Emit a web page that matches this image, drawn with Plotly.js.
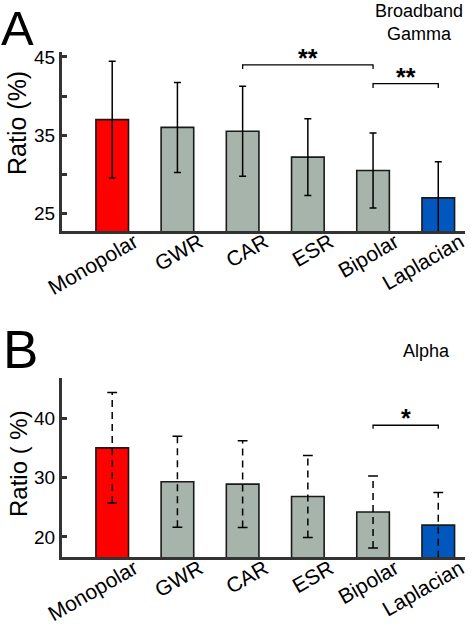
<!DOCTYPE html>
<html>
<head>
<meta charset="utf-8">
<script src="https://cdn.plot.ly/plotly-3.0.1.min.js"></script>
<style>
  html, body { margin: 0; padding: 0; background: #fff; }
  #chart { width: 472px; height: 631px; }
</style>
</head>
<body>
<div id="chart"></div>
<script>
// ---------- data ----------
const categories = ['Monopolar', 'GWR', 'CAR', 'ESR', 'Bipolar', 'Laplacian'];

const gammaMean = [37.0, 36.0, 35.5, 32.2, 30.5, 27.0];
const gammaErr  = [7.45, 5.75, 5.75, 4.9, 4.8, 4.6];

const alphaMean = [35.0, 29.3, 28.9, 26.8, 24.2, 22.0];
const alphaErr  = [9.3, 7.65, 7.3, 6.9, 6.05, 5.5];

const barColors = ['#FF0000', '#A6B4AB', '#A6B4AB', '#A6B4AB', '#A6B4AB', '#0058BE'];

const gammaTickVals = [25, 30, 35, 40, 45];
const gammaTickText = ['25', '', '35', '', '45'];
const alphaTickVals = [20, 30, 40];
const alphaTickText = ['20', '30', '40'];

const gammaSig = [
  { from: 'CAR', to: 'Bipolar', level: 44.0, label: '**' },
  { from: 'Bipolar', to: 'Laplacian', level: 41.6, label: '**' }
];
const alphaSig = [
  { from: 'Bipolar', to: 'Laplacian', level: 38.8, label: '*' }
];

const panelLetters = ['A', 'B'];
const panelBands = ['Broadband<br>Gamma', 'Alpha'];
const yTitles = ['Ratio (%)', 'Ratio ( %)'];

// ---------- layout helpers ----------
const W = 472, H = 631;
const px = x => x / W;
const py = y => 1 - y / H;
const FONT = 'Liberation Sans, Arial, Helvetica, sans-serif';
const AXC = '#333333';

const traces = [];
// Panel A bars with solid error bars
traces.push({
  type: 'bar', x: categories, y: gammaMean, xaxis: 'x', yaxis: 'y',
  width: 0.5,
  marker: { color: barColors, line: { color: '#1a1a1a', width: 1.6 } },
  error_y: { type: 'data', array: gammaErr, visible: true, color: '#000', thickness: 1.5, width: 3.5 },
  hoverinfo: 'skip', showlegend: false
});
// Panel B bars
traces.push({
  type: 'bar', x: categories, y: alphaMean, xaxis: 'x2', yaxis: 'y2',
  width: 0.5,
  marker: { color: barColors, line: { color: '#1a1a1a', width: 1.6 } },
  hoverinfo: 'skip', showlegend: false
});
// Panel B dashed error bars
const ebX = [], ebY = [], capX = [], capY = [];
categories.forEach((c, i) => {
  ebX.push(c, c, null);
  ebY.push(alphaMean[i] - alphaErr[i], alphaMean[i] + alphaErr[i], null);
  capX.push(c, c);
  capY.push(alphaMean[i] - alphaErr[i], alphaMean[i] + alphaErr[i]);
});
traces.push({
  type: 'scatter', mode: 'lines', x: ebX, y: ebY, xaxis: 'x2', yaxis: 'y2',
  line: { color: '#000', width: 1.5, dash: '7px,5px' },
  connectgaps: false, hoverinfo: 'skip', showlegend: false
});
traces.push({
  type: 'scatter', mode: 'markers', x: capX, y: capY, xaxis: 'x2', yaxis: 'y2',
  marker: { symbol: 'line-ew', size: 7, line: { color: '#000', width: 1.5 } },
  hoverinfo: 'skip', showlegend: false
});

// significance brackets
const shapes = [];
const annotations = [];
function addSig(list, xref, yref, drop, starShift) {
  list.forEach(s => {
    const a = categories.indexOf(s.from), b = categories.indexOf(s.to);
    shapes.push({
      type: 'path', xref: xref, yref: yref,
      path: `M ${a} ${s.level - drop} L ${a} ${s.level} L ${b} ${s.level} L ${b} ${s.level - drop}`,
      line: { color: '#000', width: 1.3 }
    });
    annotations.push({
      xref: xref, yref: yref, x: (a + b) / 2, y: s.level, text: '<b>' + s.label + '</b>',
      showarrow: false, xanchor: 'center', yanchor: 'bottom', yshift: starShift,
      font: { family: FONT, size: 25, color: '#000' }
    });
  });
}
addSig(gammaSig, 'x', 'y', 0.55, -9);
addSig(alphaSig, 'x2', 'y2', 0.6, -9);

// panel letters, band labels, y titles
annotations.push(
  { xref: 'paper', yref: 'paper', x: 0, y: 1, xanchor: 'left', yanchor: 'top',
    borderpad: 0,
    text: panelLetters[0], showarrow: false, font: { family: FONT, size: 49, color: '#000' } },
  { xref: 'paper', yref: 'paper', x: px(1), y: py(349.5), xanchor: 'left', yanchor: 'middle',
    text: panelLetters[1], showarrow: false, font: { family: FONT, size: 53, color: '#000' } },
  { xref: 'paper', yref: 'paper', x: px(419), y: py(22.5), xanchor: 'center', yanchor: 'middle',
    text: panelBands[0], showarrow: false, font: { family: FONT, size: 18, color: '#000' } },
  { xref: 'paper', yref: 'paper', x: px(426), y: py(350.7), xanchor: 'center', yanchor: 'middle',
    text: panelBands[1], showarrow: false, font: { family: FONT, size: 18, color: '#000' } },
  { xref: 'paper', yref: 'paper', x: px(17), y: py(123), xanchor: 'center', yanchor: 'middle',
    text: yTitles[0], textangle: -90, showarrow: false, font: { family: FONT, size: 25, color: '#000' } },
  { xref: 'paper', yref: 'paper', x: px(18), y: py(464), xanchor: 'center', yanchor: 'middle',
    text: yTitles[1], textangle: -90, showarrow: false, font: { family: FONT, size: 24, color: '#000' } }
);

const xCommon = {
  type: 'category', range: [-0.77, 5.41], showline: true, linecolor: AXC, linewidth: 3,
  ticks: '', showgrid: false, zeroline: false, tickangle: -30,
  ticklabelshift: 22, ticklabelstandoff: -12,
  tickfont: { family: FONT, size: 21, color: '#000' }, fixedrange: true
};
const yCommon = {
  showline: true, linecolor: AXC, linewidth: 3, ticks: 'inside', ticklen: 5, tickwidth: 3,
  tickcolor: AXC, showgrid: false, zeroline: false, tickmode: 'array',
  tickfont: { family: FONT, size: 19, color: '#000' }, fixedrange: true
};

const layout = {
  width: W, height: H,
  margin: { l: 0, r: 0, t: 0, b: 0 },
  paper_bgcolor: '#fff', plot_bgcolor: '#fff',
  showlegend: false,
  bargap: 0,
  xaxis: Object.assign({}, xCommon, { domain: [px(62), px(465)], anchor: 'y' }),
  yaxis: Object.assign({}, yCommon, { domain: [py(231), py(52.3)], range: [22.76, 45.6],
    tickvals: gammaTickVals, ticktext: gammaTickText, anchor: 'x' }),
  xaxis2: Object.assign({}, xCommon, { domain: [px(62), px(465)], anchor: 'y2' }),
  yaxis2: Object.assign({}, yCommon, { domain: [py(557.3), py(378.3)], range: [16.58, 46.7],
    tickvals: alphaTickVals, ticktext: alphaTickText, anchor: 'x2' }),
  shapes: shapes,
  annotations: annotations
};

Plotly.newPlot('chart', traces, layout, { displayModeBar: false, staticPlot: true });
</script>
</body>
</html>
